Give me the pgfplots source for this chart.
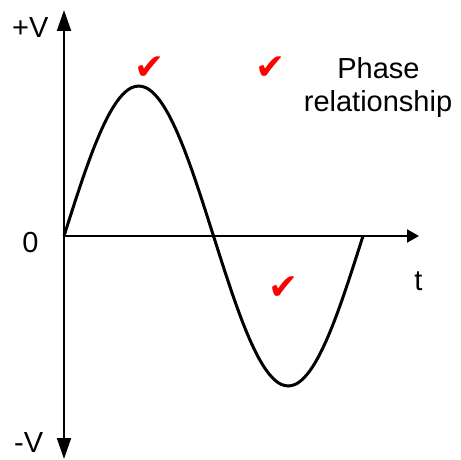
\documentclass[border=0pt]{standalone}
\usepackage{fontspec}
\setmainfont{Liberation Sans}
\newfontfamily\symfont{DejaVu Sans}
\usepackage{pgfplots}
\pgfplotsset{compat=1.18}
\usetikzlibrary{arrows.meta}

% one period of the wave (t in periods, v in units of V)
\pgfplotstableread{
t      v
0.000  0.000
0.025  0.156
0.050  0.309
0.075  0.454
0.100  0.588
0.125  0.707
0.150  0.809
0.175  0.891
0.200  0.951
0.225  0.988
0.250  1.000
0.275  0.988
0.300  0.951
0.325  0.891
0.350  0.809
0.375  0.707
0.400  0.588
0.425  0.454
0.450  0.309
0.475  0.156
0.500  0.000
0.525 -0.156
0.550 -0.309
0.575 -0.454
0.600 -0.588
0.625 -0.707
0.650 -0.809
0.675 -0.891
0.700 -0.951
0.725 -0.988
0.750 -1.000
0.775 -0.988
0.800 -0.951
0.825 -0.891
0.850 -0.809
0.875 -0.707
0.900 -0.588
0.925 -0.454
0.950 -0.309
0.975 -0.156
1.000  0.000
}\wave

\tikzset{
  lbl/.style={inner sep=0pt, font=\fontsize{29}{34}\selectfont},
  tick/.style={inner sep=0pt, text=red, font=\symfont\fontsize{36}{36}\selectfont},
}

\begin{document}
\begin{tikzpicture}
  \begin{axis}[
      scale only axis,
      width=461pt, height=459pt,
      xmin=-0.21405, xmax=1.32776,
      ymin=-1.48667, ymax=1.57333,
      hide axis,
      clip=false,
    ]
    % the axes with their arrows
    \draw[line width=2pt, {Triangle[length=21pt,width=14pt]}-{Triangle[length=21pt,width=14pt]}]
      (axis cs:0,-1.4867) -- (axis cs:0,1.5067);
    \draw[line width=2pt, -{Triangle[length=12pt,width=13pt]}]
      (axis cs:0,0) -- (axis cs:1.1873,0);

    \addplot[black, line width=3pt, smooth] table[x=t, y=v] {\wave};

    \node[lbl, anchor=base west] at (axis cs:-0.1739,1.32) {+V};
    \node[lbl, anchor=base west] at (axis cs:-0.1672,-1.44) {-V};
    \node[lbl, anchor=base] at (axis cs:-0.112,-0.1133) {0};
    \node[lbl, anchor=base] at (axis cs:1.1856,-0.36) {t};
    \node[lbl, anchor=base] at (axis cs:1.0518,1.0533) {Phase};
    \node[lbl, anchor=base] at (axis cs:1.0502,0.8267) {relationship};

    \node[tick] at (axis cs:0.2870,1.12) {✔};
    \node[tick] at (axis cs:0.6920,1.12) {✔};
    \node[tick] at (axis cs:0.7335,-0.35) {✔};
  \end{axis}
  \pgfresetboundingbox
  \path[use as bounding box] (current axis.south west) rectangle (current axis.north east);
\end{tikzpicture}
\end{document}
